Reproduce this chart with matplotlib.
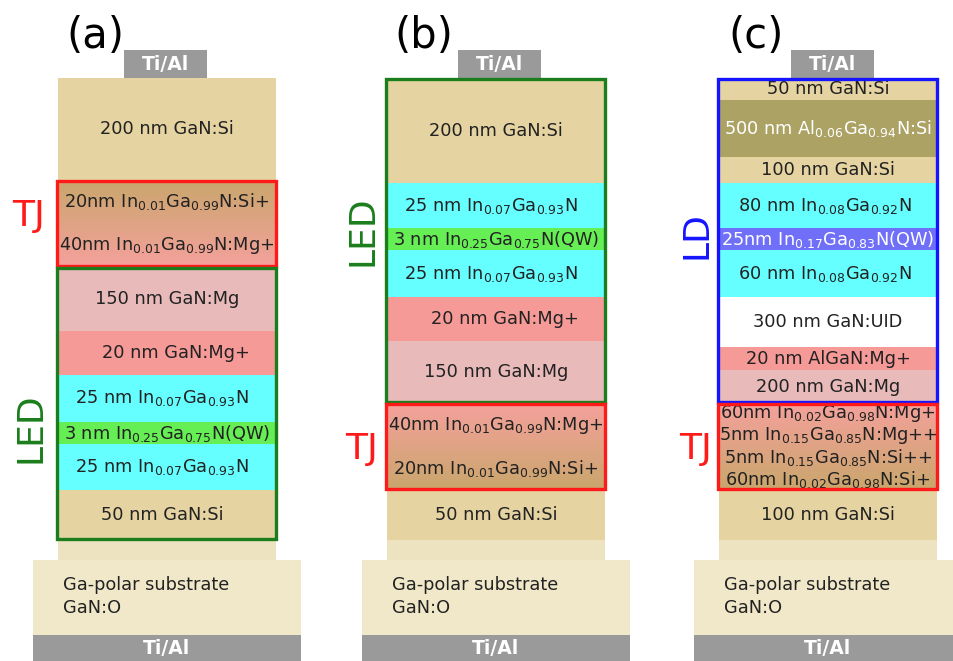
import numpy as np
import matplotlib
matplotlib.use("Agg")
import matplotlib.pyplot as plt
from matplotlib.patches import Rectangle
from matplotlib.colors import to_rgb

plt.rcParams["font.family"] = ["DejaVu Sans"]
plt.rcParams["mathtext.default"] = "regular"

# ---------------------------------------------------------------- layer data
panel_tags = ["(a)", "(b)", "(c)"]

a_layers = [
    "200 nm GaN:Si",
    r"20nm In$_{0.01}$Ga$_{0.99}$N:Si+",
    r"40nm In$_{0.01}$Ga$_{0.99}$N:Mg+",
    "150 nm GaN:Mg",
    "20 nm GaN:Mg+",
    r"25 nm In$_{0.07}$Ga$_{0.93}$N",
    r"3 nm In$_{0.25}$Ga$_{0.75}$N(QW)",
    r"25 nm In$_{0.07}$Ga$_{0.93}$N",
    "50 nm GaN:Si",
]
b_layers = [
    "200 nm GaN:Si",
    r"25 nm In$_{0.07}$Ga$_{0.93}$N",
    r"3 nm In$_{0.25}$Ga$_{0.75}$N(QW)",
    r"25 nm In$_{0.07}$Ga$_{0.93}$N",
    "20 nm GaN:Mg+",
    "150 nm GaN:Mg",
    r"40nm In$_{0.01}$Ga$_{0.99}$N:Mg+",
    r"20nm In$_{0.01}$Ga$_{0.99}$N:Si+",
    "50 nm GaN:Si",
]
c_layers = [
    "50 nm GaN:Si",
    r"500 nm Al$_{0.06}$Ga$_{0.94}$N:Si",
    "100 nm GaN:Si",
    r"80 nm In$_{0.08}$Ga$_{0.92}$N",
    r"25nm In$_{0.17}$Ga$_{0.83}$N(QW)",
    r"60 nm In$_{0.08}$Ga$_{0.92}$N",
    "300 nm GaN:UID",
    "20 nm AlGaN:Mg+",
    "200 nm GaN:Mg",
    r"60nm In$_{0.02}$Ga$_{0.98}$N:Mg+",
    r"5nm In$_{0.15}$Ga$_{0.85}$N:Mg++",
    r"5nm In$_{0.15}$Ga$_{0.85}$N:Si++",
    r"60nm In$_{0.02}$Ga$_{0.98}$N:Si+",
    "100 nm GaN:Si",
]

# device sections: (name, first layer index, last layer index)
a_groups = [("TJ", 1, 2), ("LED", 3, 8)]
b_groups = [("LED", 0, 5), ("TJ", 6, 7)]
c_groups = [("LD", 0, 8), ("TJ", 9, 12)]

substrate_lines = ["Ga-polar substrate", "GaN:O"]
contact_label = "Ti/Al"

# ---------------------------------------------------------------- styling
TAN = "#e5d4a2"
OLIVE = "#aba263"
PINK = "#e8baba"
SALMON = "#f69a98"
CYAN = "#66ffff"
GREEN_QW = "#66ee55"
VIOLET_QW = "#6f6ff8"
WHITE = "#ffffff"
TJ_BROWN = "#c9a66c"
TJ_PINK = "#f5a19c"
STRIP = "#ede3c0"
SUBSTRATE = "#f0e8c9"
METAL = "#9a9a9a"
TEXT = "#222222"

group_colors = {"TJ": "#ff1a1a", "LED": "#1b7d1b", "LD": "#1414ff"}

a_fill = [TAN, TJ_BROWN, TJ_PINK, PINK, SALMON, CYAN, GREEN_QW, CYAN, TAN]
b_fill = [TAN, CYAN, GREEN_QW, CYAN, SALMON, PINK, TJ_PINK, TJ_BROWN, TAN]
c_fill = [TAN, OLIVE, TAN, CYAN, VIOLET_QW, CYAN, WHITE, SALMON, PINK,
          TJ_PINK, TJ_PINK, TJ_BROWN, TJ_BROWN, TAN]
a_textcol = [TEXT] * 9
b_textcol = [TEXT] * 9
c_textcol = [TEXT, WHITE, TEXT, TEXT, WHITE] + [TEXT] * 9

# drawn heights of the layers (schematic, not to scale)
a_heights = [102, 43, 44, 64, 44, 47, 22, 46, 50]
b_heights = [105, 45, 22, 47, 44, 62, 44, 43, 50]
c_heights = [22, 57, 26, 45, 22, 47, 50, 23, 33, 22, 21, 22, 22, 50]

a_text_dx = [0, 0, 0, 0, 9, -5, 0, -5, -5]
b_text_dx = [0, -5, 0, -5, 9, 0, 0, 0, 0]
c_text_dx = [0, 0, 0, -3, 0, -3, 0, 0, 0, 0, 0, 0, 0, 0]

col_left = [58, 387, 719]
col_width = 218
contact_left = [124, 458, 791]
contact_width = 83
stack_top = 78
group_label_pos = {
    0: {"TJ": (29, 216), "LED": (31, 428)},
    1: {"LED": (363, 231), "TJ": (362, 449)},
    2: {"LD": (697, 235), "TJ": (696, 449)},
}

# ---------------------------------------------------------------- figure
fig = plt.figure(figsize=(9.54, 6.61), dpi=100)
ax = fig.add_axes([0, 0, 1, 1])
ax.set_xlim(0, 954)
ax.set_ylim(661, 0)
ax.axis("off")


def gradient(ax, x0, x1, y0, y1, c_top, c_bot):
    t = np.linspace(0, 1, 64)[:, None]
    ct, cb = np.array(to_rgb(c_top)), np.array(to_rgb(c_bot))
    img = (1 - t)[:, :, None] * ct + t[:, :, None] * cb
    img = np.repeat(img, 2, axis=1)
    ax.imshow(img, extent=(x0, x1, y1, y0), origin="upper", aspect="auto",
              interpolation="bilinear", zorder=1)


panels = [
    (a_layers, a_fill, a_textcol, a_heights, a_text_dx, a_groups),
    (b_layers, b_fill, b_textcol, b_heights, b_text_dx, b_groups),
    (c_layers, c_fill, c_textcol, c_heights, c_text_dx, c_groups),
]

for p, (labels, fills, tcols, heights, dxs, groups) in enumerate(panels):
    x0 = col_left[p]
    x1 = x0 + col_width
    xc = (x0 + x1) / 2
    edges = stack_top + np.concatenate([[0], np.cumsum(heights)])
    tj = [g for g in groups if g[0] == "TJ"][0]

    # layers
    for i, (lab, fc, tc, dx) in enumerate(zip(labels, fills, tcols, dxs)):
        y0, y1 = edges[i], edges[i + 1]
        if not (tj[1] <= i <= tj[2]):
            ax.add_patch(Rectangle((x0, y0), col_width, y1 - y0, facecolor=fc,
                                   edgecolor="none", zorder=1))
        ax.text(xc + dx, (y0 + y1) / 2, lab, ha="center", va="center",
                fontsize=12.8, color=tc, zorder=5)

    # tunnel junction shading
    gradient(ax, x0, x1, edges[tj[1]], edges[tj[2] + 1],
             fills[tj[1]], fills[tj[2]])

    bottom = edges[-1]
    # buffer strip, substrate and back contact
    ax.add_patch(Rectangle((x0, bottom), col_width, 20, facecolor=STRIP,
                           edgecolor="none", zorder=1))
    ax.add_patch(Rectangle((x0 - 25, bottom + 20), col_width + 50, 75,
                           facecolor=SUBSTRATE, edgecolor="none", zorder=1))
    ax.add_patch(Rectangle((x0 - 25, bottom + 95), col_width + 50, 40,
                           facecolor=METAL, edgecolor="none", zorder=1))
    ax.text(xc, bottom + 108, contact_label, ha="center", va="center",
            fontsize=13.5, fontweight="bold", color="white", zorder=5)
    ax.text(x0 + 5, bottom + 45, substrate_lines[0], ha="left", va="center",
            fontsize=12.8, color=TEXT, zorder=5)
    ax.text(x0 + 5, bottom + 68, substrate_lines[1], ha="left", va="center",
            fontsize=12.8, color=TEXT, zorder=5)

    # top contact
    ax.add_patch(Rectangle((contact_left[p], stack_top - 28), contact_width, 28,
                           facecolor=METAL, edgecolor="none", zorder=1))
    ax.text(contact_left[p] + contact_width / 2, stack_top - 13, contact_label,
            ha="center", va="center", fontsize=13.5, fontweight="bold",
            color="white", zorder=5)

    # section outlines and names
    for name, i0, i1 in groups:
        y0, y1 = edges[i0], edges[i1 + 1]
        col = group_colors[name]
        ax.add_patch(Rectangle((x0 - 0.5, y0 + 1), col_width + 1, y1 - y0 - 2,
                               facecolor="none", edgecolor=col, lw=2.4,
                               zorder=6))
        lx, ly = group_label_pos[p][name]
        ax.text(lx, ly, name, ha="center", va="center", fontsize=26,
                color=col, rotation=0 if name == "TJ" else 90, zorder=6)

    # panel tag
    ax.text(xc - 72, 36, panel_tags[p], ha="center",
            va="center", fontsize=30, color="black", zorder=6)

ax.set_xlim(0, 954)
ax.set_ylim(661, 0)
fig.savefig("out.png", dpi=100)
